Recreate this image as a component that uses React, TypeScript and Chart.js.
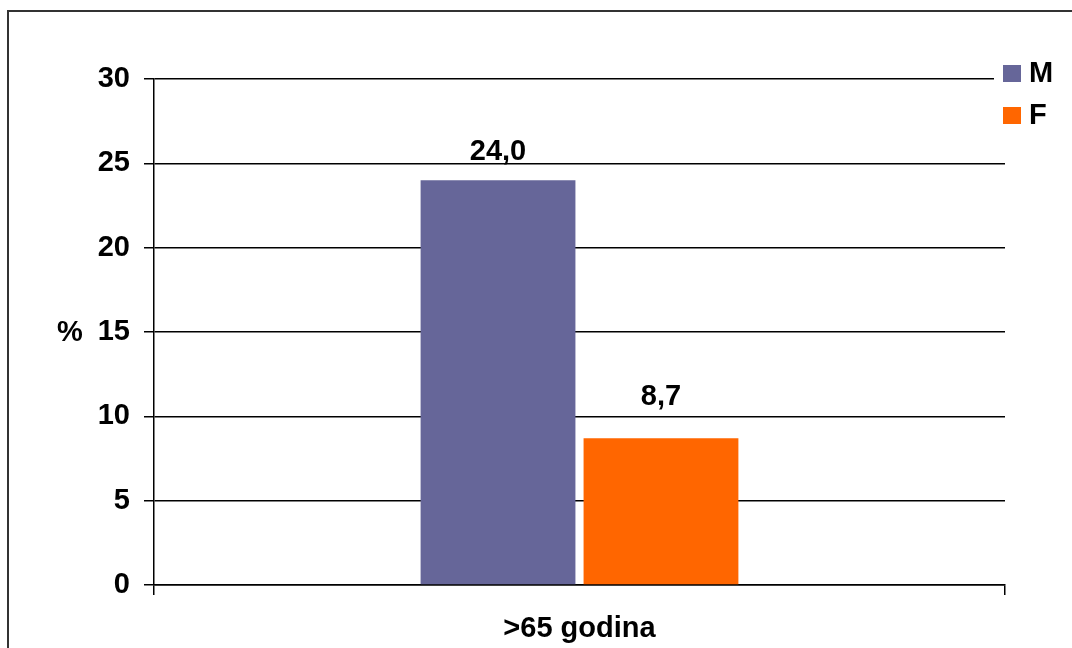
import React, { useEffect, useRef } from "react";
import { Chart, registerables } from "chart.js";

Chart.register(...registerables);

const categories = [">65 godina"];
const seriesNames = ["M", "F"];
const valuesM = [24.0];
const valuesF = [8.7];
const yTicks = [0, 5, 10, 15, 20, 25, 30];
const colors = ["#666699", "#FF6600"];

const FONT = '"Liberation Sans", Arial, sans-serif';

const framePlugin = {
  id: "frame",
  beforeDraw(chart: any) {
    const ctx = chart.ctx;
    ctx.save();
    ctx.fillStyle = "#ffffff";
    ctx.fillRect(0, 0, chart.width, chart.height);
    ctx.strokeStyle = "#333333";
    ctx.lineWidth = 2;
    ctx.beginPath();
    ctx.moveTo(8, chart.height);
    ctx.lineTo(8, 11);
    ctx.lineTo(chart.width, 11);
    ctx.stroke();
    ctx.restore();
  },
};

const labelsPlugin = {
  id: "valueLabels",
  afterDatasetsDraw(chart: any) {
    const ctx = chart.ctx;
    const offsets = [20, 33];
    ctx.save();
    ctx.font = `bold 29px ${FONT}`;
    ctx.fillStyle = "#000";
    ctx.textAlign = "center";
    ctx.textBaseline = "alphabetic";
    chart.data.datasets.forEach((ds: any, di: number) => {
      const meta = chart.getDatasetMeta(di);
      meta.data.forEach((bar: any, i: number) => {
        const v = ds.data[i] as number;
        const txt = v.toFixed(1).replace(".", ",");
        ctx.fillText(txt, bar.x, bar.y - offsets[di]);
      });
    });
    // "%" axis label
    const yScale = chart.scales.y;
    ctx.textAlign = "left";
    ctx.textBaseline = "middle";
    ctx.fillText("%", 57, yScale.getPixelForValue(15) + 1);
    ctx.restore();
  },
};

const legendPlugin = {
  id: "customLegend",
  afterDraw(chart: any) {
    const ctx = chart.ctx;
    ctx.save();
    ctx.fillStyle = "#ffffff";
    ctx.fillRect(994, 58, 78, 76);
    const rows = [73, 115];
    seriesNames.forEach((name, i) => {
      ctx.fillStyle = colors[i];
      ctx.fillRect(1003, rows[i] - 8, 18, 17);
      ctx.fillStyle = "#000";
      ctx.font = `bold 29px ${FONT}`;
      ctx.textAlign = "left";
      ctx.textBaseline = "middle";
      ctx.fillText(name, 1029, rows[i] + 1);
    });
    ctx.restore();
  },
};

export default function App() {
  const ref = useRef<HTMLCanvasElement>(null);
  useEffect(() => {
    if (!ref.current) return;
    const chart = new Chart(ref.current, {
      type: "bar",
      data: {
        labels: categories,
        datasets: [
          {
            label: seriesNames[0],
            data: valuesM,
            backgroundColor: colors[0],
            barPercentage: 0.95,
            categoryPercentage: 0.383,
          },
          {
            label: seriesNames[1],
            data: valuesF,
            backgroundColor: colors[1],
            barPercentage: 0.95,
            categoryPercentage: 0.383,
          },
        ],
      },
      options: {
        responsive: false,
        animation: false,
        layout: { padding: { left: 0, right: 67, top: 79, bottom: 0 } },
        plugins: {
          legend: { display: false },
          tooltip: { enabled: false },
        },
        scales: {
          x: {
            afterFit(scale: any) {
              scale.height = 63;
            },
            grid: {
              display: true,
              drawOnChartArea: false,
              drawTicks: true,
              tickLength: 10,
              color: "#000",
              lineWidth: 1.5,
            },
            border: { display: true, color: "#000", width: 1.5 },
            ticks: {
              color: "#000",
              font: { family: FONT, size: 29, weight: "bold" },
              padding: 17,
            },
          },
          y: {
            min: 0,
            max: 30,
            afterFit(scale: any) {
              scale.width = 154;
            },
            afterBuildTicks(scale: any) {
              scale.ticks = yTicks.map((v) => ({ value: v }));
            },
            grid: {
              color: "#000",
              lineWidth: 1.5,
              tickLength: 10,
              drawTicks: true,
            },
            border: { display: true, color: "#000", width: 1.5 },
            ticks: {
              color: "#000",
              font: { family: FONT, size: 29, weight: "bold" },
              padding: 14,
            },
          },
        },
      },
      plugins: [framePlugin, labelsPlugin, legendPlugin],
    });
    return () => chart.destroy();
  }, []);
  return (
    <div style={{ position: "fixed", left: 0, top: 0, width: 1072, height: 648 }}>
      <canvas ref={ref} width={1072} height={648} style={{ width: 1072, height: 648 }} />
    </div>
  );
}
